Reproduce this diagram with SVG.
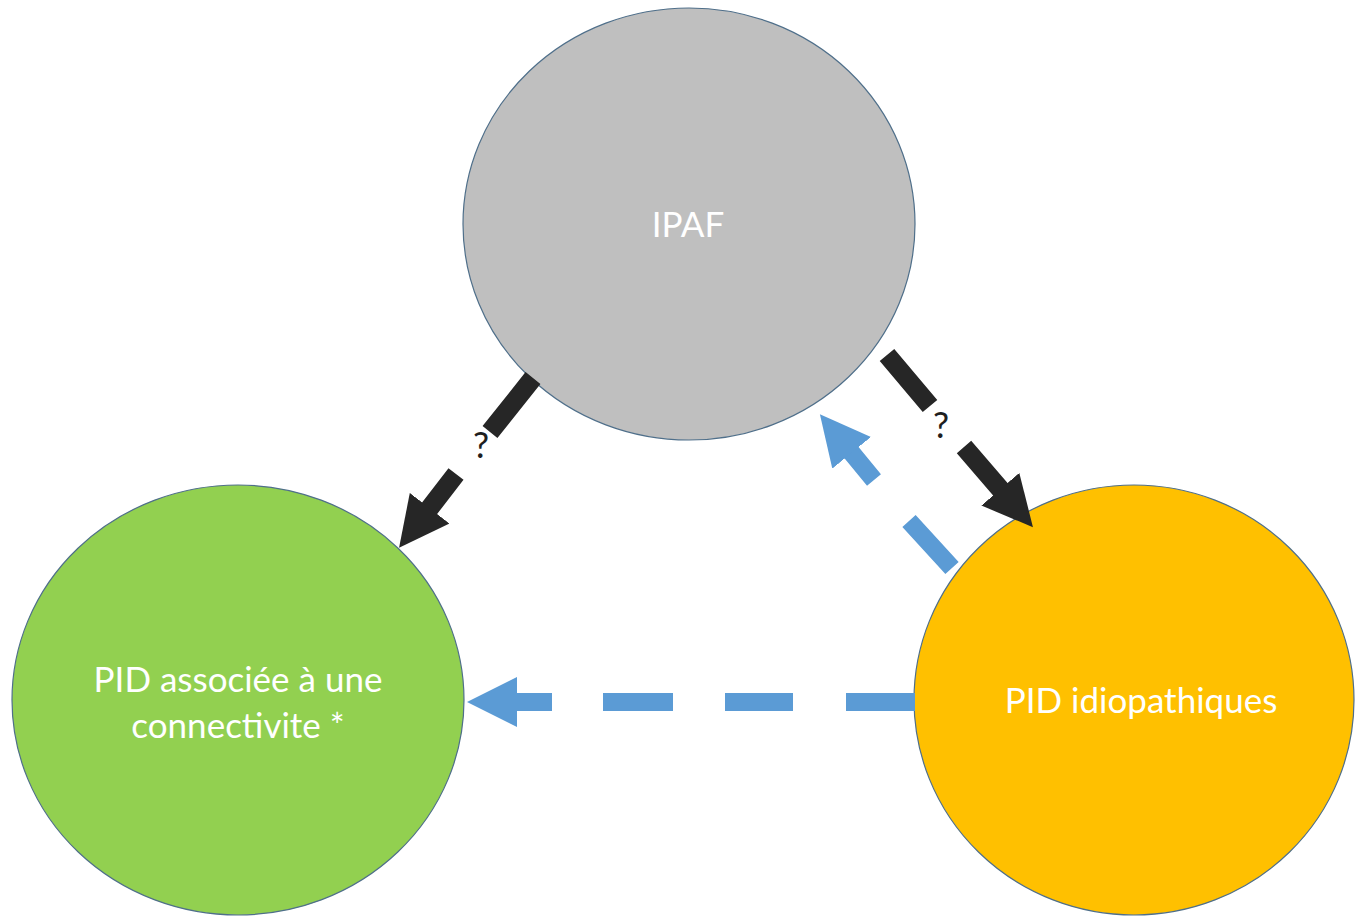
<svg xmlns="http://www.w3.org/2000/svg" width="1355" height="917" viewBox="0 0 1355 917">
  <style>
    .node { stroke: #4f6f8a; stroke-width: 1.2; }
    .lbl { font-family: Lato, "Open Sans", "Liberation Sans", sans-serif; fill: #ffffff; text-anchor: middle; font-size: 35px; }
    .q { font-family: Lato, "Open Sans", "Liberation Sans", sans-serif; fill: #1f1f1f; text-anchor: middle; font-size: 36px; }
    .blk { fill: none; stroke: #262626; stroke-width: 19; stroke-linecap: butt; }
    .blu { fill: none; stroke: #5b9bd5; stroke-width: 18; stroke-linecap: butt; }
  </style>
  <defs>
    <marker id="headBlack" markerUnits="userSpaceOnUse" viewBox="0 -25 50 50" markerWidth="50" markerHeight="50" refX="1" refY="0" orient="auto">
      <path d="M0,-25 L50,0 L0,25 Z" fill="#262626"/>
    </marker>
    <marker id="headBlue" markerUnits="userSpaceOnUse" viewBox="0 -25 50 50" markerWidth="50" markerHeight="50" refX="1" refY="0" orient="auto">
      <path d="M0,-25 L50,0 L0,25 Z" fill="#5b9bd5"/>
    </marker>
  </defs>
  <rect x="0" y="0" width="1355" height="917" fill="#ffffff"/>

  <g id="ipaf">
    <ellipse class="node" cx="689" cy="224" rx="226" ry="216" fill="#bfbfbf"/>
    <text class="lbl" x="688" y="237">IPAF</text>
  </g>
  <g id="pid-connectivite">
    <ellipse class="node" cx="238" cy="700" rx="226" ry="215" fill="#92d050"/>
    <text class="lbl" x="238" y="692">PID associée à une</text>
    <text class="lbl" x="238" y="738">connectivite *</text>
  </g>
  <g id="pid-idiopathiques">
    <ellipse class="node" cx="1134" cy="700" rx="220" ry="215" fill="#ffc000"/>
    <text class="lbl" x="1141" y="713">PID idiopathiques</text>
  </g>

  <g id="connectors">
    <path class="blk" d="M533,378 L490,432 M456,474 L429,509" marker-end="url(#headBlack)"/>
    <text class="q" x="481" y="458">?</text>
    <path class="blk" d="M887,355 L930,406 M964,447 L1001,490" marker-end="url(#headBlack)"/>
    <text class="q" x="941" y="438">?</text>
    <path class="blu" d="M952,568 L909,521 M874,480 L851,452" marker-end="url(#headBlue)"/>
    <path class="blu" d="M915,702 L846,702 M793,702 L725,702 M673,702 L603,702 M552,702 L516,702" marker-end="url(#headBlue)"/>
  </g>
</svg>
